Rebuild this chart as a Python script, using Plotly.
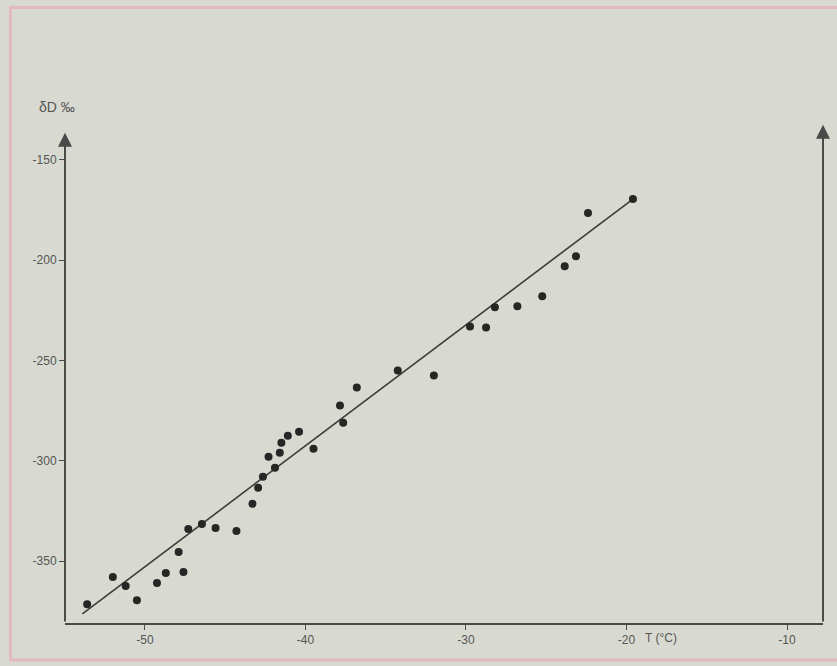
import plotly.graph_objects as go

# Data (T in °C, δD in ‰)
temperature = [-53.6, -52.0, -51.2, -50.5, -49.25, -48.7, -47.9, -47.6, -47.3, -46.45,
               -45.6, -44.3, -43.3, -42.95, -42.65, -41.9, -42.3, -41.6, -41.5, -41.1,
               -40.4, -39.5, -37.85, -37.65, -36.8, -34.25, -32.0, -29.75, -28.75, -28.2,
               -26.8, -25.25, -23.85, -23.15, -22.4, -19.6]
delta_d = [-371.5, -358.0, -362.5, -369.5, -361.0, -356.0, -345.5, -355.5, -334.0, -331.5,
           -333.5, -335.0, -321.5, -313.5, -308.0, -303.5, -298.0, -296.0, -291.0, -287.5,
           -285.5, -294.0, -272.5, -281.0, -263.5, -255.0, -257.5, -233.0, -233.5, -223.5,
           -223.0, -218.0, -203.0, -198.0, -176.5, -169.5]

# Regression line endpoints
line_t = [-53.9, -19.6]
line_d = [-376.4, -169.5]

x_ticks = [-50, -40, -30, -20, -10]
x_ticktext = ["-50", "-40", "-30", "-20", "-10"]
y_ticks = [-150, -200, -250, -300, -350]
y_ticktext = ["-150", "-200", "-250", "-300", "-350"]

x_range = [-54.98, -7.76]
y_range = [-380.9, -125.1]

axis_col = "#4a4a48"
text_col = "#555553"

fig = go.Figure()
fig.add_trace(go.Scatter(x=line_t, y=line_d, mode="lines",
                         line=dict(color="#3c3c3a", width=1.6),
                         showlegend=False, hoverinfo="skip"))
fig.add_trace(go.Scatter(x=temperature, y=delta_d, mode="markers",
                         marker=dict(color="#262624", size=8),
                         showlegend=False))

annotations = []
# left axis with arrow
annotations.append(dict(x=x_range[0], y=-136.5, ax=x_range[0], ay=y_range[0],
                        xref="x", yref="y", axref="x", ayref="y", text="",
                        showarrow=True, arrowhead=2, arrowsize=1.4, arrowwidth=2,
                        arrowcolor=axis_col))
# right vertical line with arrow
annotations.append(dict(x=x_range[1], y=-132.5, ax=x_range[1], ay=y_range[0],
                        xref="x", yref="y", axref="x", ayref="y", text="",
                        showarrow=True, arrowhead=2, arrowsize=1.4, arrowwidth=2,
                        arrowcolor=axis_col))
# axis titles (paper coordinates so they are not hidden outside the axis range)
annotations.append(dict(x=(-16.7 - x_range[0]) / (x_range[1] - x_range[0]), y=-0.012,
                        xref="paper", yref="paper", text="T (°C)",
                        showarrow=False, yanchor="top",
                        font=dict(size=12, color=text_col)))
annotations.append(dict(x=0.0, y=1.006, xref="paper", yref="paper", text="δD ‰",
                        showarrow=False, xanchor="center", xshift=-8, yanchor="middle",
                        font=dict(size=14, color=text_col)))

fig.update_layout(
    width=837, height=666,
    margin=dict(l=65, r=14, t=110, b=43),
    paper_bgcolor="#d8dad2",
    plot_bgcolor="#d8dad2",
    font=dict(family="Liberation Sans, Arial, sans-serif", size=12, color=text_col),
    annotations=annotations,
    shapes=[
        dict(type="rect", xref="paper", yref="paper", x0=-0.072, x1=1.03, y0=-0.072, y1=1.2,
             line=dict(color="#e2b8c2", width=3), fillcolor="rgba(0,0,0,0)", layer="below"),
    ],
    xaxis=dict(range=x_range, tickvals=x_ticks, ticktext=x_ticktext,
               showgrid=False, zeroline=False, showline=True, linecolor=axis_col,
               linewidth=2, ticks="outside", ticklen=5, tickcolor=axis_col,
               tickfont=dict(size=12, color=text_col)),
    yaxis=dict(range=y_range, tickvals=y_ticks, ticktext=y_ticktext,
               showgrid=False, zeroline=False, showline=False,
               ticks="outside", ticklen=5, tickcolor=axis_col,
               tickfont=dict(size=12, color=text_col)),
)

fig.write_html("out.html", config={"displayModeBar": False},
               post_script="document.body.style.margin='0';")
